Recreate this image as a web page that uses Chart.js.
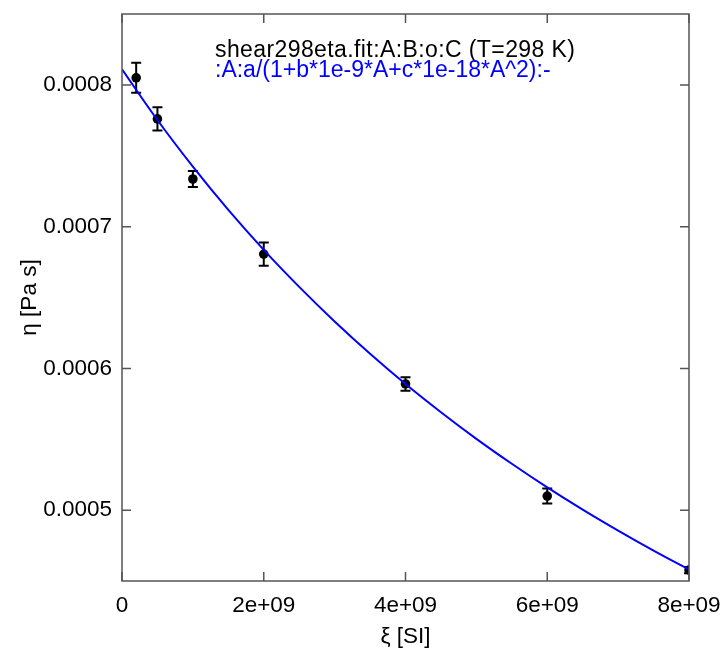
<!DOCTYPE html>
<html>
<head>
<meta charset="utf-8">
<script src="https://cdn.jsdelivr.net/npm/chart.js@4.4.1/dist/chart.umd.min.js"></script>
<style>
  html, body { margin: 0; padding: 0; background: #fff; }
  #wrap { width: 727px; height: 662px; }
</style>
</head>
<body>
<div id="wrap"><canvas id="chart" width="727" height="662"></canvas></div>
<script>
// measured points: xi [SI] vs eta [Pa s], with error bars
const xiPoints  = [2e8, 5e8, 1e9, 2e9, 4e9, 6e9, 8e9];
const etaPoints = [0.000805, 0.000776, 0.0007336, 0.0006806, 0.000589, 0.0005099, 0.0004577];
const etaErrors = [0.0000106, 0.0000082, 0.0000057, 0.0000082, 0.0000047, 0.0000053, 0.0000022];

// fitted curve
const xiFit  = [0, 5e8, 1e9, 1.5e9, 2e9, 2.5e9, 3e9, 3.5e9, 4e9, 4.5e9, 5e9, 5.5e9, 6e9, 6.5e9, 7e9, 7.5e9, 8e9];
const etaFit = [0.0008110, 0.0007752, 0.0007423, 0.0007118, 0.0006836, 0.0006575, 0.0006331, 0.0006103, 0.0005890,
                0.0005691, 0.0005503, 0.0005327, 0.0005160, 0.0005003, 0.0004855, 0.0004714, 0.0004580];

const xTicks = [0, 2e9, 4e9, 6e9, 8e9];
const xTickLabels = ['0', '2e+09', '4e+09', '6e+09', '8e+09'];
const yTicks = [0.0005, 0.0006, 0.0007, 0.0008];
const yTickLabels = ['0.0005', '0.0006', '0.0007', '0.0008'];

const legendLines = [
  { text: 'shear298eta.fit:A:B:o:C (T=298 K)', color: '#000000', spacing: '0.4px' },
  { text: ':A:a/(1+b*1e-9*A+c*1e-18*A^2):-', color: '#0000ff', spacing: '0px' }
];

const FONT = '"Liberation Sans", Arial, sans-serif';
const FONT_SIZE = 22.5;
const FRAME = '#555555';

// error bars under the markers
const errorBars = {
  id: 'errorBars',
  beforeDatasetsDraw(chart) {
    const { ctx, chartArea: a, scales: { x, y } } = chart;
    ctx.save();
    ctx.beginPath();
    ctx.rect(a.left, a.top, a.width, a.height);
    ctx.clip();
    ctx.strokeStyle = '#000';
    ctx.lineWidth = 2;
    xiPoints.forEach((xv, i) => {
      const px = x.getPixelForValue(xv);
      const top = y.getPixelForValue(etaPoints[i] + etaErrors[i]);
      const bot = y.getPixelForValue(etaPoints[i] - etaErrors[i]);
      ctx.beginPath();
      ctx.moveTo(px, top); ctx.lineTo(px, bot);
      ctx.moveTo(px - 5, top); ctx.lineTo(px + 5, top);
      ctx.moveTo(px - 5, bot); ctx.lineTo(px + 5, bot);
      ctx.stroke();
    });
    ctx.restore();
  }
};

// closed frame with inward ticks on all four sides, plus the key text
const frame = {
  id: 'frame',
  afterDatasetsDraw(chart) {
    const { ctx, chartArea: a, scales: { x, y } } = chart;
    const len = 9;
    ctx.save();
    ctx.strokeStyle = FRAME;
    ctx.lineWidth = 1.5;
    ctx.strokeRect(a.left, a.top, a.width, a.height);
    ctx.beginPath();
    xTicks.forEach(v => {
      const px = x.getPixelForValue(v);
      ctx.moveTo(px, a.bottom); ctx.lineTo(px, a.bottom - len);
      ctx.moveTo(px, a.top); ctx.lineTo(px, a.top + len);
    });
    yTicks.forEach(v => {
      const py = y.getPixelForValue(v);
      ctx.moveTo(a.left, py); ctx.lineTo(a.left + len, py);
      ctx.moveTo(a.right, py); ctx.lineTo(a.right - len, py);
    });
    ctx.stroke();

    ctx.font = '23px ' + FONT;
    ctx.textBaseline = 'alphabetic';
    ctx.textAlign = 'left';
    legendLines.forEach((l, i) => {
      ctx.letterSpacing = l.spacing;
      ctx.fillStyle = l.color;
      ctx.fillText(l.text, 215, 57 + i * 20);
    });
    ctx.restore();
  }
};

new Chart(document.getElementById('chart'), {
  type: 'scatter',
  data: {
    datasets: [
      {
        label: 'fit',
        data: xiFit.map((v, i) => ({ x: v, y: etaFit[i] })),
        showLine: true,
        borderColor: '#0000ff',
        borderWidth: 2,
        pointRadius: 0,
        tension: 0.4,
        clip: 0
      },
      {
        label: 'data',
        data: xiPoints.map((v, i) => ({ x: v, y: etaPoints[i] })),
        showLine: false,
        pointRadius: 4.8,
        pointBackgroundColor: '#000',
        pointBorderWidth: 0,
        clip: 0
      }
    ]
  },
  options: {
    responsive: false,
    animation: false,
    events: [],
    layout: { autoPadding: false, padding: { left: 0, top: 14, right: 38, bottom: 0 } },
    plugins: { legend: { display: false }, tooltip: { enabled: false } },
    scales: {
      x: {
        type: 'linear',
        min: 0,
        max: 8e9,
        afterFit: s => {
          s.height = 81;
          s.paddingLeft = 0; s.paddingRight = 0;
        },
        afterBuildTicks: s => { s.ticks = xTicks.map(v => ({ value: v })); },
        grid: { display: false, drawTicks: false },
        border: { display: false },
        ticks: {
          padding: 11,
          color: '#000',
          maxRotation: 0,
          autoSkip: false,
          font: { family: FONT, size: FONT_SIZE },
          callback: (v, i) => xTickLabels[i]
        },
        title: {
          display: true,
          text: 'ξ [SI]',
          color: '#000',
          font: { family: FONT, size: FONT_SIZE },
          padding: { top: 0, bottom: 12 }
        }
      },
      y: {
        type: 'linear',
        min: 0.00045,
        max: 0.00085,
        afterFit: s => {
          s.width = 122;
          s.paddingTop = 0; s.paddingBottom = 0;
        },
        afterBuildTicks: s => { s.ticks = yTicks.map(v => ({ value: v })); },
        grid: { display: false, drawTicks: false },
        border: { display: false },
        ticks: {
          padding: 10,
          color: '#000',
          autoSkip: false,
          font: { family: FONT, size: FONT_SIZE },
          callback: (v, i) => yTickLabels[i]
        },
        title: {
          display: true,
          text: 'η [Pa s]',
          color: '#000',
          font: { family: FONT, size: FONT_SIZE },
          padding: { top: 16, bottom: 0 }
        }
      }
    }
  },
  plugins: [errorBars, frame]
});
</script>
</body>
</html>
